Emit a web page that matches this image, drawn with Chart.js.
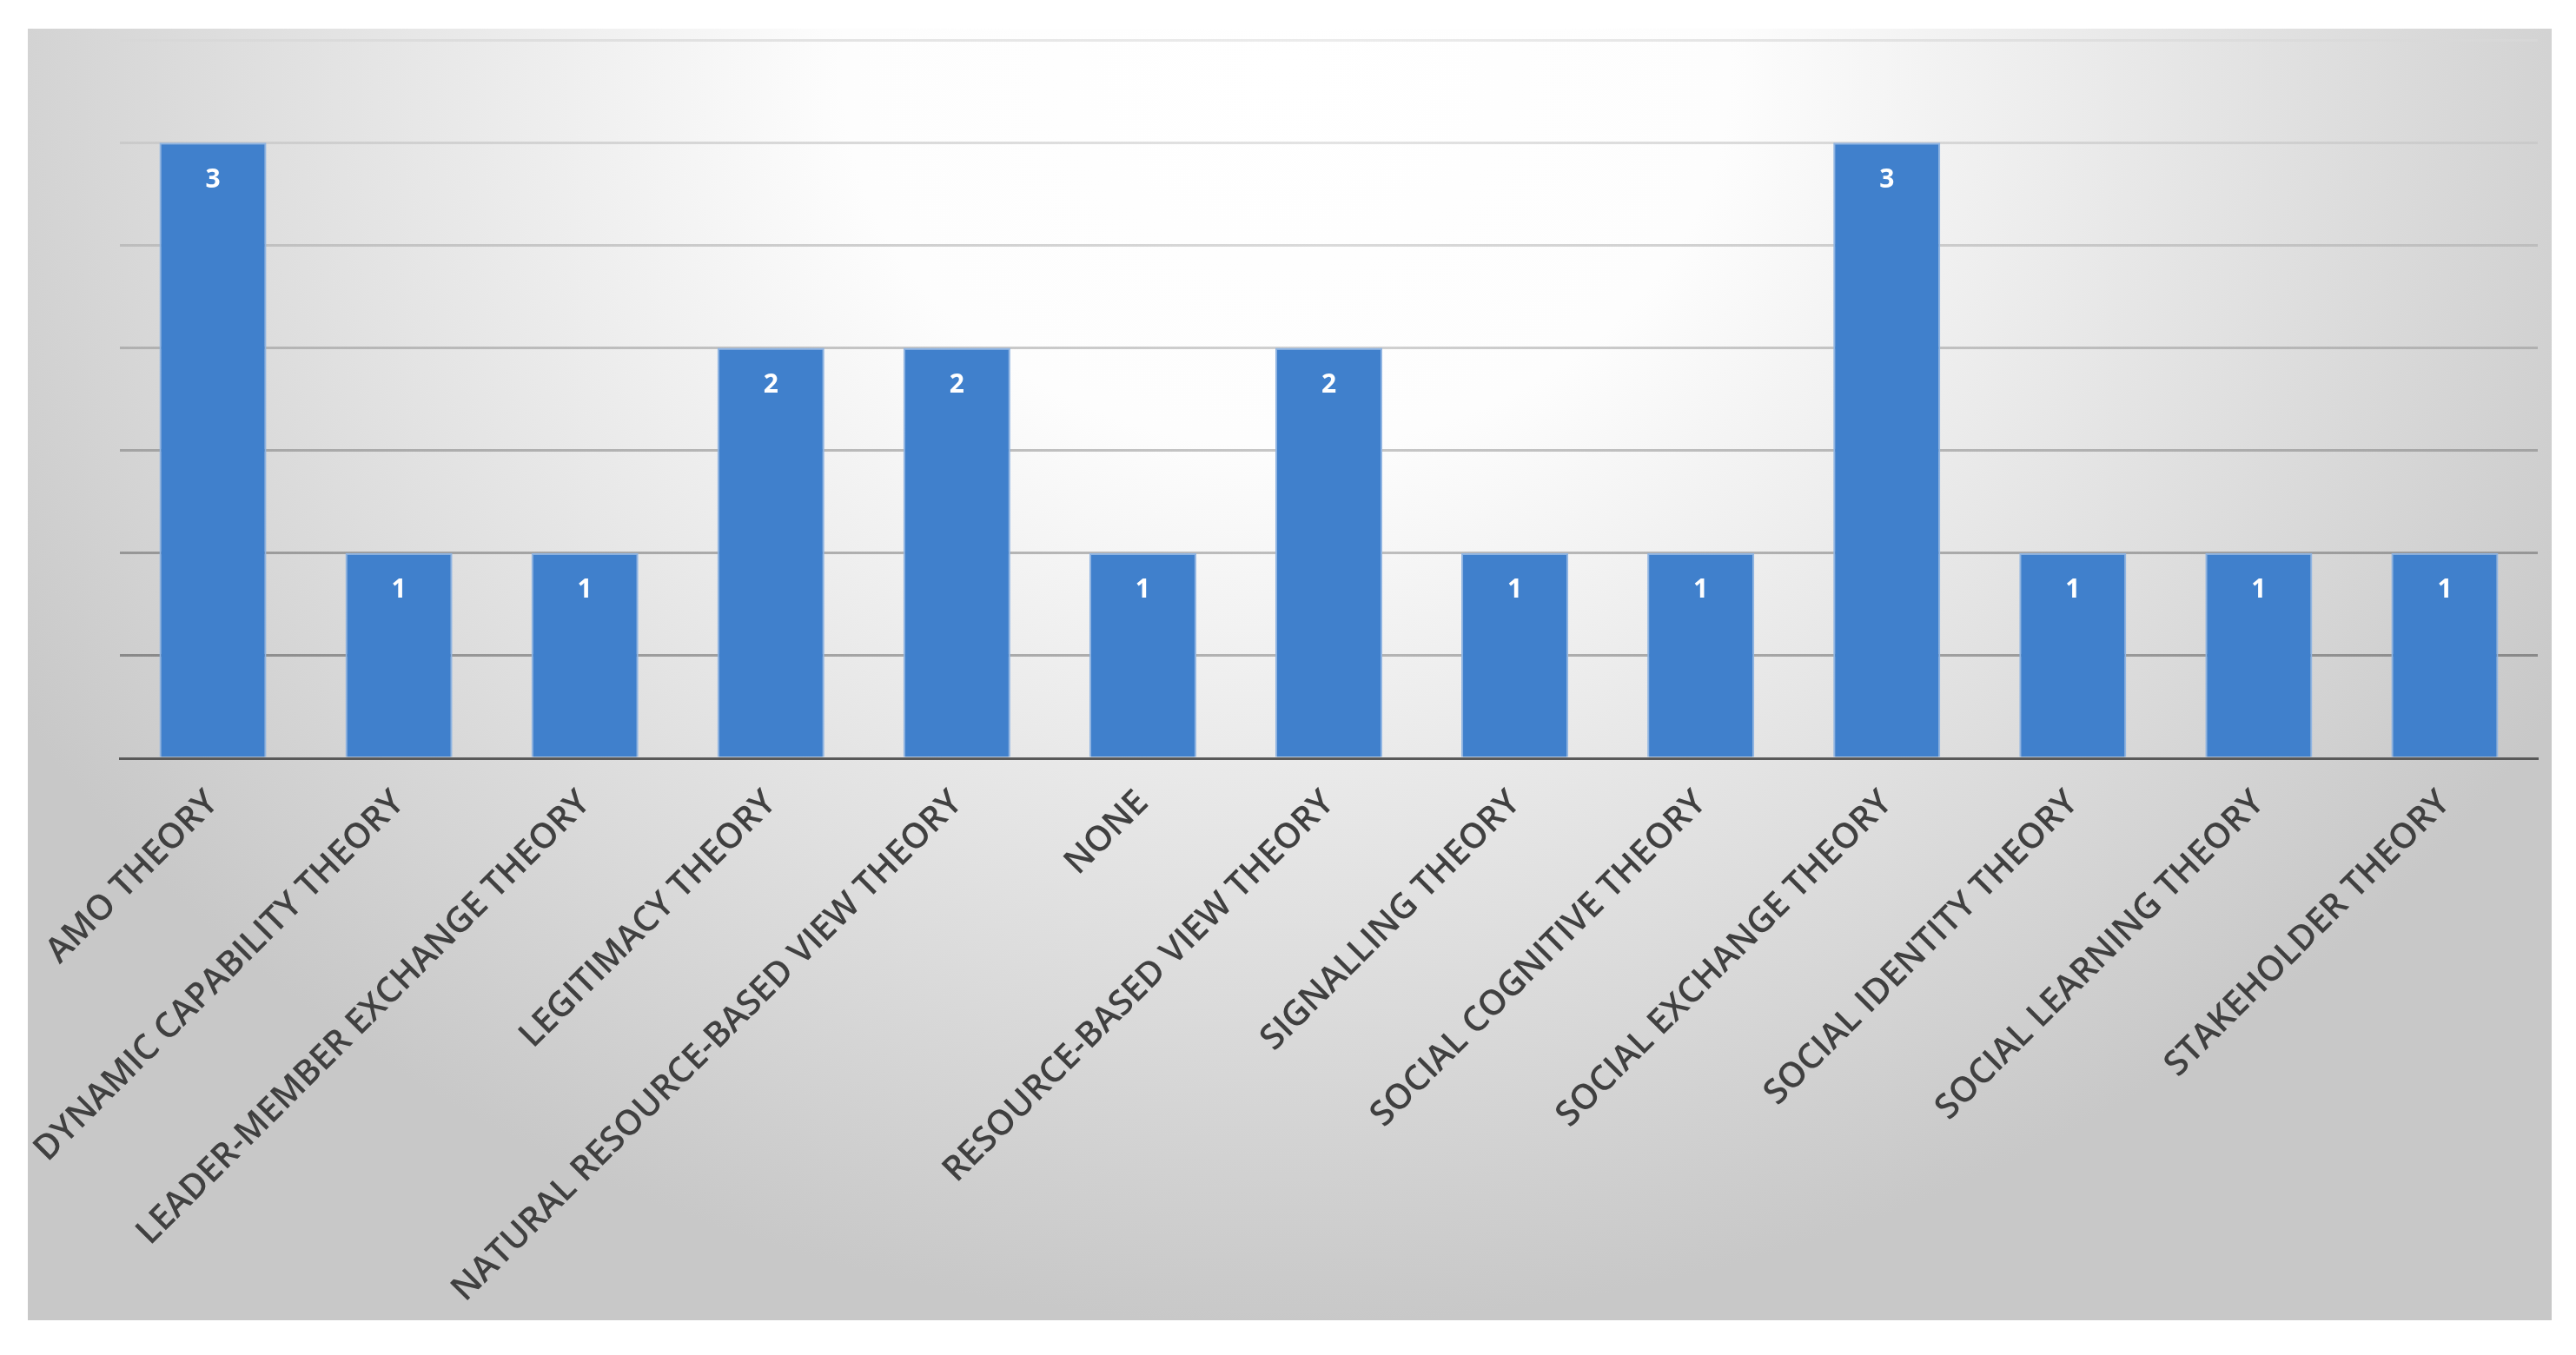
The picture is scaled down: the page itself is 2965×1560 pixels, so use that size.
<!DOCTYPE html>
<html>
<head>
<meta charset="utf-8">
<script src="https://cdn.jsdelivr.net/npm/chart.js@4.4.1/dist/chart.umd.min.js"></script>
<style>
  html, body { margin: 0; padding: 0; background: #ffffff; }
  #wrap { width: 2965px; height: 1560px; }
</style>
</head>
<body>
<div id="wrap"><canvas id="theory-chart"></canvas></div>
<script>
let theoryLabels = [
  "AMO THEORY",
  "DYNAMIC CAPABILITY THEORY",
  "LEADER-MEMBER EXCHANGE THEORY",
  "LEGITIMACY THEORY",
  "NATURAL RESOURCE-BASED VIEW THEORY",
  "NONE",
  "RESOURCE-BASED VIEW THEORY",
  "SIGNALLING THEORY",
  "SOCIAL COGNITIVE THEORY",
  "SOCIAL EXCHANGE THEORY",
  "SOCIAL IDENTITY THEORY",
  "SOCIAL LEARNING THEORY",
  "STAKEHOLDER THEORY",
];

let theoryCounts = [3, 1, 1, 2, 2, 1, 2, 1, 1, 3, 1, 1, 1];

// grey panel, white near the top middle
let panelBackground = {
  id: "panelBackground",
  beforeDraw: function (chart) {
    let ctx = chart.ctx;
    let x0 = 32, y0 = 33, x1 = 2937, y1 = 1520;
    ctx.save();
    ctx.beginPath();
    ctx.rect(x0, y0, x1 - x0, y1 - y0);
    ctx.clip();
    ctx.translate(1480, 80);
    ctx.scale(1, 0.85);
    let g = ctx.createRadialGradient(0, 0, 0, 0, 0, 1700);
    g.addColorStop(0, "#ffffff");
    g.addColorStop(0.3, "#fdfdfd");
    g.addColorStop(1, "#c8c8c8");
    ctx.fillStyle = g;
    ctx.fillRect(-1600, -200, 3200, 2200);
    ctx.restore();
  },
};

// white numbers inside the top of each bar
let barValues = {
  id: "barValues",
  afterDatasetsDraw: function (chart) {
    let ctx = chart.ctx;
    let meta = chart.getDatasetMeta(0);
    ctx.save();
    ctx.fillStyle = "#ffffff";
    ctx.font = "bold 30px 'Open Sans', sans-serif";
    ctx.textAlign = "center";
    ctx.textBaseline = "middle";
    meta.data.forEach(function (bar, i) {
      ctx.fillText(String(theoryCounts[i]), bar.x, bar.y + 43);
    });
    ctx.restore();
  },
};

// grid lines: lighter up high and in the middle, darker low and at the sides
let gridColor = function (c) {
  let chart = c.chart;
  let area = chart.chartArea;
  if (!area) return "#c4c4c4";
  let v = c.tick ? c.tick.value : 0;
  let edge = Math.round(215 - (3.5 - v) * 26);
  let mid = Math.round(236 - (3.5 - v) * 18);
  let g = chart.ctx.createLinearGradient(area.left, 0, area.right, 0);
  g.addColorStop(0, "rgb(" + edge + "," + edge + "," + edge + ")");
  g.addColorStop(0.5, "rgb(" + mid + "," + mid + "," + mid + ")");
  g.addColorStop(1, "rgb(" + edge + "," + edge + "," + edge + ")");
  return g;
};

let ctx = document.getElementById("theory-chart").getContext("2d");

new Chart(ctx, {
  type: "bar",
  data: {
    labels: theoryLabels,
    datasets: [
      {
        data: theoryCounts,
        backgroundColor: "#4080cc",
        borderColor: "#8fb4e2",
        borderWidth: 2,
        categoryPercentage: 0.575,
        barPercentage: 1.0,
      },
    ],
  },
  options: {
    responsive: true,
    maintainAspectRatio: false,
    animation: false,
    layout: {
      padding: { left: 138, right: 44, top: 46, bottom: 40 },
    },
    plugins: {
      legend: { display: false },
      tooltip: { enabled: false },
    },
    scales: {
      x: {
        grid: { display: false, drawTicks: false },
        border: { display: true, color: "#595959", width: 3 },
        ticks: {
          color: "#404040",
          font: { family: "'Open Sans', sans-serif", size: 40, weight: "600" },
          minRotation: 45,
          maxRotation: 45,
          padding: 28,
          autoSkip: false,
        },
        afterFit: function (scale) {
          scale.height = 647;
        },
      },
      y: {
        min: 0,
        max: 3.5,
        ticks: { display: false, stepSize: 0.5 },
        grid: { color: gridColor, lineWidth: 3, drawTicks: false },
        border: { display: false },
        afterFit: function (scale) {
          scale.width = 0;
        },
      },
    },
  },
  plugins: [panelBackground, barValues],
});
</script>
</body>
</html>
